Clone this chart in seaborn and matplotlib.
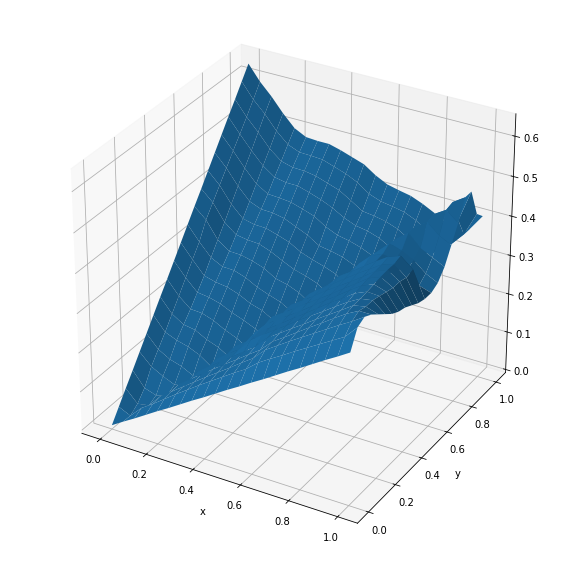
import numpy as np
import seaborn as sns
import matplotlib
matplotlib.use("Agg")
import matplotlib.pyplot as plt

x_vals = [0.0, 0.05, 0.1, 0.15, 0.2, 0.25, 0.3, 0.35, 0.4, 0.45, 0.5,
          0.55, 0.6, 0.65, 0.7, 0.75, 0.8, 0.85, 0.9, 0.95, 1.0]
y_vals = [0.0, 0.05, 0.1, 0.15, 0.2, 0.25, 0.3, 0.35, 0.4, 0.45, 0.5,
          0.55, 0.6, 0.65, 0.7, 0.75, 0.8, 0.85, 0.9, 0.95, 1.0]
# one row per y value
z_rows = [
    [.002, .021, .039, .058, .077, .095, .114, .133, .151, .170, .189, .207, .226, .244, .263, .282, .300, .319, .338, .356, .375],
    [.034, .020, .050, .070, .092, .114, .135, .156, .176, .196, .216, .235, .260, .279, .297, .316, .334, .352, .370, .388, .420],
    [.066, .035, .040, .073, .095, .117, .139, .161, .182, .203, .225, .246, .276, .296, .316, .335, .354, .373, .392, .410, .430],
    [.097, .060, .050, .060, .098, .120, .143, .165, .187, .208, .230, .251, .281, .301, .322, .343, .363, .384, .404, .420, .420],
    [.129, .100, .084, .071, .078, .123, .146, .168, .190, .212, .235, .266, .286, .307, .327, .348, .368, .388, .409, .415, .405],
    [.161, .129, .112, .103, .088, .096, .149, .172, .193, .226, .248, .269, .290, .312, .332, .352, .373, .393, .410, .415, .390],
    [.193, .158, .146, .138, .125, .104, .115, .175, .197, .230, .250, .271, .293, .314, .336, .358, .378, .399, .412, .410, .375],
    [.225, .190, .171, .166, .150, .139, .121, .135, .200, .233, .255, .275, .295, .317, .339, .360, .382, .403, .415, .405, .365],
    [.256, .221, .196, .194, .184, .168, .156, .138, .154, .238, .258, .279, .300, .320, .341, .363, .384, .406, .418, .400, .360],
    [.288, .253, .224, .220, .212, .198, .187, .174, .155, .187, .262, .282, .303, .325, .345, .365, .386, .408, .420, .400, .350],
    [.320, .285, .252, .244, .240, .230, .215, .206, .189, .174, .205, .284, .307, .327, .349, .370, .390, .410, .420, .395, .340],
    [.352, .316, .284, .269, .268, .258, .242, .231, .221, .204, .193, .220, .300, .332, .352, .374, .395, .415, .425, .400, .335],
    [.384, .358, .315, .294, .293, .286, .276, .258, .251, .239, .219, .210, .242, .319, .356, .385, .398, .390, .375, .345, .335],
    [.415, .388, .346, .322, .317, .315, .304, .289, .275, .267, .256, .235, .229, .260, .335, .381, .410, .400, .385, .360, .345],
    [.447, .418, .378, .349, .342, .341, .332, .322, .305, .294, .285, .274, .249, .247, .279, .350, .406, .430, .400, .385, .370],
    [.479, .448, .410, .379, .367, .366, .360, .347, .334, .315, .310, .303, .290, .266, .265, .297, .364, .431, .450, .425, .410],
    [.511, .478, .442, .410, .392, .390, .387, .378, .368, .349, .336, .330, .321, .308, .282, .284, .316, .386, .456, .475, .450],
    [.543, .507, .473, .442, .421, .415, .415, .406, .396, .383, .366, .354, .349, .339, .322, .299, .302, .335, .407, .480, .500],
    [.574, .537, .506, .472, .448, .440, .439, .434, .424, .414, .396, .377, .373, .367, .356, .338, .315, .320, .353, .420, .500],
    [.606, .568, .539, .504, .477, .465, .464, .462, .452, .442, .428, .407, .396, .391, .385, .372, .352, .333, .337, .370, .430],
    [.638, .600, .570, .535, .505, .490, .488, .488, .480, .470, .460, .440, .425, .418, .412, .400, .385, .360, .345, .370, .410],
]
tick_vals = [0.0, 0.2, 0.4, 0.6, 0.8, 1.0]
z_tick_vals = [0.0, 0.1, 0.2, 0.3, 0.4, 0.5, 0.6]

blue = sns.color_palette("tab10")[0]

fig = plt.figure(figsize=(579 / 72, 565 / 72), dpi=72)
ax = fig.add_axes([0.0, 0.0, 1.0, 1.0], projection="3d")
ax.set_box_aspect((1, 1, 0.95), zoom=0.93)

X, Y = np.meshgrid(x_vals, y_vals)
Z = np.array(z_rows)
ax.plot_surface(X, Y, Z, color=blue, rcount=len(y_vals), ccount=len(x_vals))

ax.set_xlim(-0.08, 1.08)
ax.set_ylim(-0.08, 1.08)
ax.set_zlim(-0.008, 0.655)
ax.set_xticks(tick_vals)
ax.set_yticks(tick_vals)
ax.set_zticks(z_tick_vals)
ax.set_xlabel("x")
ax.set_ylabel("y")

fig.savefig("out.png", dpi=72)
